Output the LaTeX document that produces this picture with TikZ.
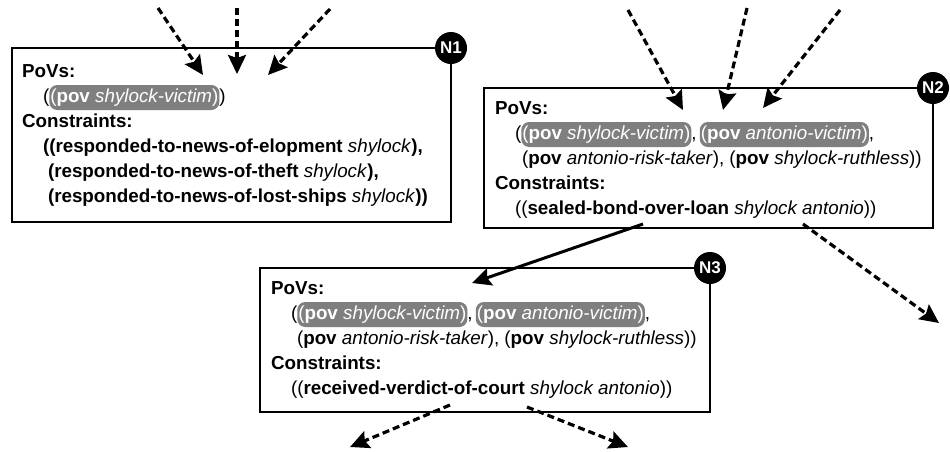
\documentclass[tikz,border=0pt]{standalone}
\usepackage{fontspec}
\setmainfont{Liberation Sans}
\usetikzlibrary{arrows.meta}
\definecolor{pillgray}{HTML}{7F7F7F}
\begin{document}
\begin{tikzpicture}[x=1pt,y=-1pt,
  every node/.style={inner sep=0pt, outer sep=0pt},
  box/.style={draw=black, line width=2pt, fill=white, anchor=north west},
  txt/.style={anchor=base west, font=\fontsize{18.8}{25}\selectfont},
  pill/.style={anchor=base west, font=\fontsize{18.8}{25}\selectfont, fill=pillgray, text=white,
    rounded corners=8pt, text height=13pt, text depth=4pt, inner ysep=4pt, inner xsep=1pt},
  badge/.style={circle, fill=black, text=white, minimum size=32pt, font=\fontsize{17}{17}\bfseries\selectfont},
  dashedarrow/.style={line width=3.2pt, dash pattern=on 7pt off 4pt, -{Stealth[length=19pt,width=18pt,inset=3pt]}},
  solidarrow/.style={line width=3pt, -{Stealth[length=19pt,width=18pt,inset=3pt]}}
]
\useasboundingbox (0,0) rectangle (950,451);

% ---------- boxes ----------
\node[box, minimum width=439pt, minimum height=174pt] (n1) at (12,48) {};
\node[box, minimum width=449pt, minimum height=140pt] (n2) at (484,88) {};
\node[box, minimum width=450pt, minimum height=144pt] (n3) at (260,268) {};

% ---------- N1 text ----------
\node[txt] (n1a) at (22,77) {\textbf{PoVs:}};
\node[txt] (n1b0) at (43,102) {(};
\node[pill] (n1b1) at (n1b0.base east) {(\textbf{pov} \textit{shylock-victim})};
\node[txt] (n1b2) at (n1b1.base east) {)};
\node[txt] (n1c) at (22,127) {\textbf{Constraints:}};
\node[txt] (n1d) at (43,152) {\textbf{((responded-to-news-of-elopment} \textit{shylock}\textbf{),}};
\node[txt] (n1e) at (48,177) {\textbf{(responded-to-news-of-theft} \textit{shylock}\textbf{),}};
\node[txt] (n1f) at (48,202) {\textbf{(responded-to-news-of-lost-ships} \textit{shylock}\textbf{))}};

% ---------- N2 text ----------
\node[txt] (n2a) at (495,114) {\textbf{PoVs:}};
\node[txt] (n2b0) at (515,139) {(};
\node[pill] (n2b1) at (n2b0.base east) {(\textbf{pov} \textit{shylock-victim})};
\node[txt] (n2b2) at (n2b1.base east) {,\,};
\node[pill] (n2b3) at (n2b2.base east) {(\textbf{pov} \textit{antonio-victim})};
\node[txt] (n2b4) at (n2b3.base east) {,};
\node[txt] (n2c) at (522,164) {(\textbf{pov} \textit{antonio-risk-taker}), (\textbf{pov} \textit{shylock-ruthless}))};
\node[txt] (n2d) at (495,189) {\textbf{Constraints:}};
\node[txt] (n2e) at (515,214) {((\textbf{sealed-bond-over-loan} \textit{shylock antonio}))};

% ---------- N3 text ----------
\node[txt] (n3a) at (271,294) {\textbf{PoVs:}};
\node[txt] (n3b0) at (291,319) {(};
\node[pill] (n3b1) at (n3b0.base east) {(\textbf{pov} \textit{shylock-victim})};
\node[txt] (n3b2) at (n3b1.base east) {,\,};
\node[pill] (n3b3) at (n3b2.base east) {(\textbf{pov} \textit{antonio-victim})};
\node[txt] (n3b4) at (n3b3.base east) {,};
\node[txt] (n3c) at (297,344) {(\textbf{pov} \textit{antonio-risk-taker}), (\textbf{pov} \textit{shylock-ruthless}))};
\node[txt] (n3d) at (271,369) {\textbf{Constraints:}};
\node[txt] (n3e) at (291,394) {((\textbf{received-verdict-of-court} \textit{shylock antonio}))};

% ---------- arrow end points ----------
\coordinate (i1s) at (158,8);  \coordinate (i1t) at (203,75);
\coordinate (i2s) at (237,8);  \coordinate (i2t) at (237,74);
\coordinate (i3s) at (330,9);  \coordinate (i3t) at (268,75);
\coordinate (j1s) at (628,10); \coordinate (j1t) at (683,110);
\coordinate (j2s) at (747,8);  \coordinate (j2t) at (723,110);
\coordinate (j3s) at (840,10); \coordinate (j3t) at (763,108);
\coordinate (k1s) at (643,224); \coordinate (k1t) at (472,283);
\coordinate (k2s) at (803,224); \coordinate (k2t) at (939,323);
\coordinate (m1s) at (450,405); \coordinate (m1t) at (350,447);
\coordinate (m2s) at (527,407); \coordinate (m2t) at (628,447);

% ---------- arrows ----------
\draw[dashedarrow] (i1s) -- (i1t);
\draw[dashedarrow] (i2s) -- (i2t);
\draw[dashedarrow] (i3s) -- (i3t);
\draw[dashedarrow] (j1s) -- (j1t);
\draw[dashedarrow] (j2s) -- (j2t);
\draw[dashedarrow] (j3s) -- (j3t);
\draw[solidarrow] (k1s) -- (k1t);
\draw[dashedarrow] (k2s) -- (k2t);
\draw[dashedarrow] (m1s) -- (m1t);
\draw[dashedarrow] (m2s) -- (m2t);

% ---------- badges ----------
\node[badge] (b1) at (n1.north east) {N1};
\node[badge] (b2) at (n2.north east) {N2};
\node[badge] (b3) at (n3.north east) {N3};
\end{tikzpicture}
\end{document}
